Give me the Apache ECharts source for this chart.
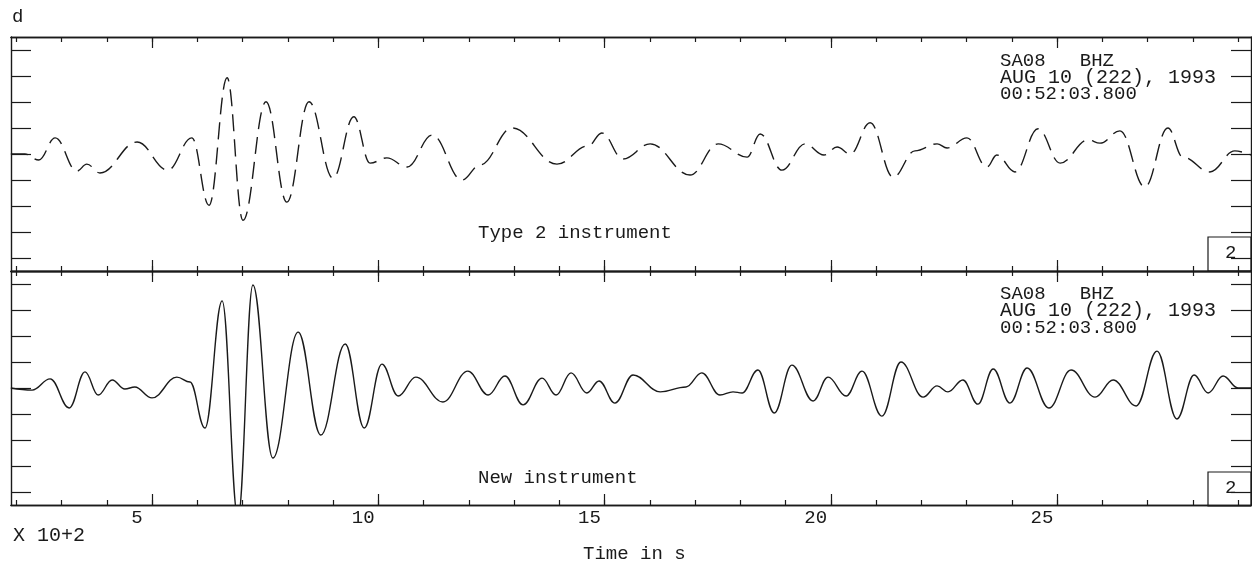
<!DOCTYPE html>
<html>
<head>
<meta charset="utf-8">
<script src="https://cdn.jsdelivr.net/npm/echarts@6/dist/echarts.min.js"></script>
<style>
  html, body { margin: 0; padding: 0; background: #fff; }
  #chart { width: 1252px; height: 563px; }
</style>
</head>
<body>
<div id="chart"></div>
<script>
// time in units of 10^2 s, amplitude in tick units (peaks, troughs and shoulders)
const topTime = [1.88, 2.19, 2.50, 2.86, 3.34, 3.56, 3.85, 4.67, 5.35, 5.88, 6.26, 6.66, 7.01, 7.52, 7.98, 8.47,
  9.00, 9.46, 9.82, 10.19, 10.64, 11.19, 11.85, 12.25, 12.96, 13.95, 14.64, 14.94, 15.41, 16.01, 16.89, 17.51,
  18.15, 18.44, 18.92, 19.43, 19.85, 20.14, 20.43, 20.87, 21.38, 21.86, 22.35, 22.57, 23.01, 23.45, 23.67, 24.07,
  24.58, 25.07, 25.69, 25.95, 26.39, 26.94, 27.45, 27.78, 28.38, 28.93, 29.29]
const topAmp = [0, 0, -0.23, 0.62, -0.66, -0.39, -0.73, 0.46, -0.62, 0.62, -1.97, 2.93, -2.55, 2.01, -1.85, 2.01,
  -0.93, 1.43, -0.35, -0.15, -0.50, 0.73, -1.00, -0.42, 1.00, -0.39, 0.31, 0.81, -0.19, 0.39, -0.81, 0.39,
  -0.12, 0.77, -0.62, 0.39, -0.04, 0.27, 0, 1.20, -0.89, 0.12, 0.39, 0.23, 0.62, -0.50, -0.04, -0.69,
  0.97, -0.35, 0.54, 0.42, 0.89, -1.27, 1.00, -0.12, -0.69, 0.12, -0.04]

const bottomTime = [1.88, 2.35, 2.75, 3.17, 3.52, 3.81, 4.12, 4.40, 4.62, 5.00, 5.55, 5.84, 6.17, 6.55, 6.90, 7.23,
  7.67, 8.23, 8.73, 9.27, 9.69, 10.08, 10.44, 10.83, 11.43, 11.98, 12.43, 12.80, 13.20, 13.62, 13.93, 14.26,
  14.61, 14.88, 15.23, 15.63, 16.23, 16.80, 17.15, 17.55, 17.84, 18.04, 18.39, 18.75, 19.14, 19.61, 19.94, 20.34,
  20.69, 21.13, 21.55, 22.04, 22.35, 22.59, 22.92, 23.25, 23.59, 23.96, 24.34, 24.82, 25.31, 25.84, 26.24, 26.75,
  27.21, 27.65, 28.03, 28.34, 28.67, 29.00, 29.29]
const bottomAmp = [0, -0.08, 0.35, -0.77, 0.62, -0.27, 0.31, -0.04, 0.04, -0.38, 0.42, 0.23, -1.54, 3.35, -5.0, 3.96,
  -2.69, 2.15, -1.81, 1.69, -1.54, 0.92, -0.31, 0.42, -0.54, 0.65, -0.27, 0.46, -0.65, 0.38, -0.27, 0.58,
  -0.19, 0.27, -0.58, 0.50, -0.15, 0.04, 0.58, -0.27, -0.15, -0.19, 0.69, -0.96, 0.88, -0.50, 0.42, -0.31,
  0.65, -1.08, 1.00, -0.35, 0.08, -0.15, 0.31, -0.62, 0.73, -0.58, 0.77, -0.77, 0.69, -0.35, 0.31, -0.69,
  1.42, -1.19, 0.50, -0.19, 0.46, 0, 0]

const minorTicks = [2, 3, 4, 5, 6, 7, 8, 9, 10, 11, 12, 13, 14, 15, 16, 17, 18, 19, 20, 21, 22, 23, 24, 25, 26, 27, 28, 29]
const majorTicks = [5, 10, 15, 20, 25]
const xLabels = [5, 10, 15, 20, 25]
const yTicks = [-4, -3, -2, -1, 0, 1, 2, 3, 4]

const ink = '#1a1a1a'
const font = 'Liberation Mono'

function xAxisFor(grid, pos, ticks, len, labels) {
  return {
    type: 'value',
    gridIndex: grid,
    position: pos,
    min: 1.884,
    max: 29.287,
    axisLine: { show: true, onZero: false, lineStyle: { color: ink, width: 1.4 } },
    axisTick: { show: true, inside: true, length: len, customValues: ticks, lineStyle: { color: ink, width: 1.2 } },
    axisLabel: labels ? {
      show: true,
      customValues: xLabels,
      margin: 3,
      color: ink,
      fontSize: 19,
      fontFamily: font,
      align: 'center',
      padding: [0, 30, 0, 0]
    } : { show: false },
    splitLine: { show: false }
  }
}

function yAxisFor(grid, pos) {
  return {
    type: 'value',
    gridIndex: grid,
    position: pos,
    min: -4.5,
    max: 4.5,
    axisLine: { show: true, onZero: false, lineStyle: { color: ink, width: 1.4 } },
    axisTick: { show: true, inside: true, length: 20, customValues: yTicks, lineStyle: { color: ink, width: 1.2 } },
    axisLabel: { show: false },
    splitLine: { show: false }
  }
}

function label(text, x, y, size) {
  return {
    type: 'text',
    x: x,
    y: y,
    style: { text: text, fill: ink, fontSize: size || 19, fontFamily: font, verticalAlign: 'middle' }
  }
}

function box(y) {
  return {
    type: 'rect',
    shape: { x: 1208, y: y, width: 43, height: 34 },
    style: { fill: 'none', stroke: ink, lineWidth: 1.2 }
  }
}

const chart = echarts.init(document.getElementById('chart'))
chart.setOption({
  backgroundColor: '#fff',
  animation: false,
  grid: [
    { left: 11, top: 37, width: 1240, height: 234 },
    { left: 11, top: 271, width: 1240, height: 234 }
  ],
  xAxis: [
    xAxisFor(0, 'bottom', minorTicks, 5, false),
    xAxisFor(0, 'bottom', majorTicks, 11, false),
    xAxisFor(0, 'top', minorTicks, 5, false),
    xAxisFor(0, 'top', majorTicks, 11, false),
    xAxisFor(1, 'bottom', minorTicks, 5, true),
    xAxisFor(1, 'bottom', majorTicks, 11, false),
    xAxisFor(1, 'top', minorTicks, 5, false),
    xAxisFor(1, 'top', majorTicks, 11, false)
  ],
  yAxis: [
    yAxisFor(0, 'left'),
    yAxisFor(0, 'right'),
    yAxisFor(1, 'left'),
    yAxisFor(1, 'right')
  ],
  series: [
    {
      name: 'Type 2 instrument',
      type: 'line',
      xAxisIndex: 0,
      yAxisIndex: 0,
      data: topTime.map((t, i) => [t, topAmp[i]]),
      showSymbol: false,
      smooth: 0.4,
      smoothMonotone: 'x',
      lineStyle: { color: ink, width: 1.4, type: [17, 8] }
    },
    {
      name: 'New instrument',
      type: 'line',
      xAxisIndex: 4,
      yAxisIndex: 2,
      data: bottomTime.map((t, i) => [t, bottomAmp[i]]),
      showSymbol: false,
      smooth: 0.4,
      smoothMonotone: 'x',
      lineStyle: { color: ink, width: 1.4 }
    }
  ],
  graphic: [
    label('d', 12, 17),
    label('SA08   BHZ', 1000, 61),
    label('AUG 10 (222), 1993', 1000, 78, 20),
    label('00:52:03.800', 1000, 94),
    label('Type 2 instrument', 478, 233),
    box(237),
    label('2', 1225, 253),
    label('SA08   BHZ', 1000, 294),
    label('AUG 10 (222), 1993', 1000, 311, 20),
    label('00:52:03.800', 1000, 328),
    label('New instrument', 478, 478),
    box(472),
    label('2', 1225, 488),
    label('X 10+2', 13, 536, 20),
    label('Time in s', 583, 554)
  ]
})
</script>
</body>
</html>
